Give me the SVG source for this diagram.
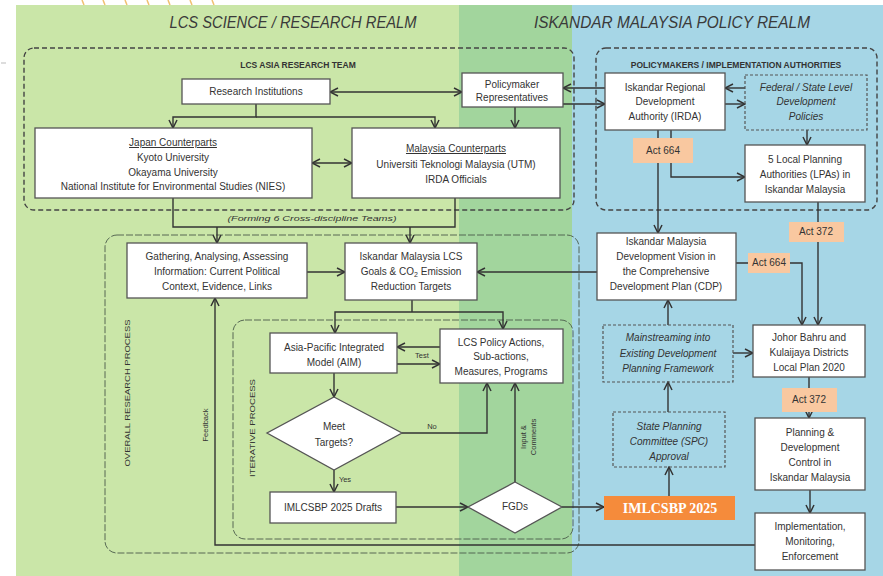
<svg xmlns="http://www.w3.org/2000/svg" width="883" height="576" viewBox="0 0 883 576">
<defs>
<marker id="arr" markerUnits="userSpaceOnUse" markerWidth="10" markerHeight="10" viewBox="0 0 10 10" refX="9" refY="5" orient="auto-start-reverse">
<path d="M1,1 L9,5 L1,9" fill="none" stroke="#333" stroke-width="1.5"/>
</marker>
<style>
text{font-family:"Liberation Sans",Arial,sans-serif;fill:#333;}
.box{fill:#fff;stroke:#555;stroke-width:1.3;}
.dbox{fill:none;stroke:#555;stroke-width:1.2;stroke-dasharray:3 2;}
.grp{fill:none;stroke:#444;stroke-width:1.4;stroke-dasharray:5 3;}
.grp2{fill:none;stroke:#4a5a4a;stroke-width:0.9;stroke-dasharray:7 2;}
.t{font-size:10px;text-anchor:middle;}
.ti{font-size:10px;text-anchor:middle;font-style:italic;}
.lbl{font-size:8.5px;font-weight:bold;text-anchor:middle;}
.title{font-size:16.5px;font-style:italic;text-anchor:middle;fill:#3a3a3a;}
.small{font-size:7.5px;text-anchor:middle;}
.act{fill:#F9C8A0;}
.c{fill:none;stroke:#333;stroke-width:1.4;}
.ca{fill:none;stroke:#333;stroke-width:1.4;marker-end:url(#arr);}
.cb{fill:none;stroke:#333;stroke-width:1.4;marker-end:url(#arr);marker-start:url(#arr);}
</style>
</defs>

<!-- backgrounds -->
<rect x="0" y="0" width="883" height="576" fill="#fff"/>
<rect x="16" y="5" width="443" height="571" fill="#CAE6A8"/>
<rect x="459" y="5" width="113" height="571" fill="#A2D59D"/>
<rect x="572" y="5" width="311" height="571" fill="#A6D6E6"/>
<g stroke="#F0C070" stroke-width="1.5">
<line x1="84" y1="5" x2="82" y2="0"/><line x1="105" y1="5" x2="103" y2="0"/><line x1="127" y1="5" x2="125" y2="0"/><line x1="149" y1="5" x2="147" y2="0"/><line x1="170" y1="5" x2="168" y2="0"/><line x1="192" y1="5" x2="190" y2="0"/><line x1="214" y1="5" x2="212" y2="0"/>
</g>
<line x1="1" y1="63" x2="6" y2="63" stroke="#bbb" stroke-width="1"/>

<text class="title" x="293" y="28" textLength="247" lengthAdjust="spacingAndGlyphs">LCS SCIENCE / RESEARCH REALM</text>
<text class="title" x="672" y="28" textLength="276" lengthAdjust="spacingAndGlyphs">ISKANDAR MALAYSIA POLICY REALM</text>

<!-- group frames -->
<g id="lcs-asia-research-team">
<rect class="grp" x="24" y="48" width="550" height="162" rx="10"/>
<text class="lbl" x="298" y="68">LCS ASIA RESEARCH TEAM</text>
</g>
<g id="policymakers-authorities">
<rect class="grp" x="596" y="48" width="281" height="162" rx="10"/>
<text class="lbl" x="736" y="68">POLICYMAKERS / IMPLEMENTATION AUTHORITIES</text>
</g>
<g id="overall-research-process">
<rect class="grp2" x="105" y="235" width="474" height="318" rx="12"/>
<text class="small" transform="translate(130,393) rotate(-90)" font-size="8.5" textLength="147" lengthAdjust="spacingAndGlyphs">OVERALL RESEARCH PROCESS</text>
</g>
<g id="iterative-process">
<rect class="grp2" x="233" y="320" width="340" height="219" rx="12"/>
<text class="small" transform="translate(255,428) rotate(-90)" font-size="8.5" textLength="98" lengthAdjust="spacingAndGlyphs">ITERATIVE PROCESS</text>
</g>

<!-- connectors -->
<g id="connectors">
<path class="cb" d="M330,92 H462"/>
<path class="ca" d="M256,104 V117 H173 V128"/>
<path class="ca" d="M256,117 H435 V128"/>
<path class="ca" d="M515,107 V128"/>
<path class="cb" d="M312,163 H352"/>
<path class="ca" d="M605,88 H563"/>
<path class="ca" d="M563,104 H605"/>
<path class="ca" d="M745,88 H725"/>
<path class="ca" d="M725,104 H745"/>
<path class="ca" d="M807,130 V145"/>
<path class="ca" d="M658,130 V233"/>
<path class="ca" d="M671,130 V177 H745"/>
<path class="ca" d="M818,202 V325"/>
<path class="ca" d="M736,263 H802 V325"/>
<path class="ca" d="M597,272 H477"/>
<path class="ca" d="M668,325 V300"/>
<path class="ca" d="M733,353 H753"/>
<path class="ca" d="M668,412 V382"/>
<path class="ca" d="M669,496 V467"/>
<path class="ca" d="M809,377 V418"/>
<path class="ca" d="M810,490 V513"/>
<path class="ca" d="M755,545 H215 V298"/>
<path class="c" d="M173,198 V227 H455 V198"/>
<path class="ca" d="M217,227 V243"/>
<path class="ca" d="M410,227 V243"/>
<path class="ca" d="M307,272 H345"/>
<path class="c" d="M412,300 V312"/>
<path class="ca" d="M412,312 H335 V333"/>
<path class="ca" d="M412,312 H503 V329"/>
<path class="ca" d="M440,347 H397"/>
<path class="ca" d="M397,364 H440"/>
<path class="ca" d="M334,373 V397"/>
<path class="ca" d="M402,433 H487 V383"/>
<path class="ca" d="M334,470 V492"/>
<path class="ca" d="M396,507 H468"/>
<path class="ca" d="M515,482 V383"/>
<path class="ca" d="M562,507 H604"/>
<text class="small" x="312" y="221" font-style="italic" font-size="9.5" textLength="169" lengthAdjust="spacingAndGlyphs">(Forming 6 Cross-discipline Teams)</text>
<text class="small" x="422" y="358" font-size="7">Test</text>
<text class="small" x="432" y="429" font-size="7">No</text>
<text class="small" x="345" y="482" font-size="7">Yes</text>
<text class="small" transform="translate(208,425) rotate(-90)" font-size="6.5">Feedback</text>
<text class="small" transform="translate(526,437) rotate(-90)" font-size="7">Input &amp;</text>
<text class="small" transform="translate(536,437) rotate(-90)" font-size="7">Comments</text>
</g>

<!-- act labels -->
<g id="act664-a"><rect class="act" x="633" y="138" width="60" height="25"/><text class="t" x="663" y="154" font-size="9.5">Act 664</text></g>
<g id="act372-a"><rect class="act" x="789" y="222" width="55" height="20"/><text class="t" x="816" y="235" font-size="9.5">Act 372</text></g>
<g id="act664-b"><rect class="act" x="748" y="253" width="42" height="20"/><text class="t" x="769" y="266" font-size="9">Act 664</text></g>
<g id="act372-b"><rect class="act" x="782" y="388" width="55" height="24"/><text class="t" x="809" y="403" font-size="9.5">Act 372</text></g>

<!-- nodes -->
<g id="research-institutions"><rect class="box" x="182" y="79" width="148" height="25"/><text class="t" x="256" y="95">Research Institutions</text></g>
<g id="policymaker-representatives"><rect class="box" x="462" y="73" width="101" height="34"/><text class="t" x="512" y="88">Policymaker</text><text class="t" x="512" y="101">Representatives</text></g>
<g id="japan-counterparts"><rect class="box" x="35" y="128" width="277" height="70"/>
<text class="t" x="173" y="146" text-decoration="underline">Japan Counterparts</text>
<text class="t" x="173" y="161">Kyoto University</text>
<text class="t" x="173" y="176">Okayama University</text>
<text class="t" x="173" y="190" font-size="9.7">National Institute for Environmental Studies (NIES)</text></g>
<g id="malaysia-counterparts"><rect class="box" x="352" y="128" width="208" height="70"/>
<text class="t" x="456" y="152" text-decoration="underline">Malaysia Counterparts</text>
<text class="t" x="456" y="168">Universiti Teknologi Malaysia (UTM)</text>
<text class="t" x="456" y="183">IRDA Officials</text></g>
<g id="irda"><rect class="box" x="605" y="73" width="120" height="57"/>
<text class="t" x="665" y="91">Iskandar Regional</text><text class="t" x="665" y="105">Development</text><text class="t" x="665" y="120">Authority (IRDA)</text></g>
<g id="federal-state-policies"><rect class="dbox" x="745" y="75" width="122" height="55"/>
<text class="ti" x="806" y="91">Federal / State Level</text><text class="ti" x="806" y="105">Development</text><text class="ti" x="806" y="120">Policies</text></g>
<g id="local-planning-authorities"><rect class="box" x="745" y="145" width="120" height="57"/>
<text class="t" x="805" y="163">5 Local Planning</text><text class="t" x="805" y="178">Authorities (LPAs) in</text><text class="t" x="805" y="193">Iskandar Malaysia</text></g>
<g id="gathering"><rect class="box" x="127" y="243" width="180" height="55"/>
<text class="t" x="217" y="260">Gathering, Analysing, Assessing</text><text class="t" x="217" y="275">Information: Current Political</text><text class="t" x="217" y="290">Context, Evidence, Links</text></g>
<g id="lcs-goals"><rect class="box" x="345" y="243" width="132" height="57"/>
<text class="t" x="411" y="260">Iskandar Malaysia LCS</text><text class="t" x="411" y="275">Goals &amp; CO<tspan font-size="7" dy="2">2</tspan><tspan dy="-2"> Emission</tspan></text><text class="t" x="411" y="290">Reduction Targets</text></g>
<g id="development-vision-cdp"><rect class="box" x="597" y="233" width="139" height="67"/>
<text class="t" x="666" y="245">Iskandar Malaysia</text><text class="t" x="666" y="260">Development Vision in</text><text class="t" x="666" y="275">the Comprehensive</text><text class="t" x="666" y="290">Development Plan (CDP)</text></g>
<g id="aim"><rect class="box" x="270" y="333" width="127" height="40"/>
<text class="t" x="334" y="351">Asia-Pacific Integrated</text><text class="t" x="334" y="366">Model (AIM)</text></g>
<g id="lcs-policy-actions"><rect class="box" x="440" y="329" width="123" height="54"/>
<text class="t" x="501" y="346">LCS Policy Actions,</text><text class="t" x="501" y="360">Sub-actions,</text><text class="t" x="501" y="375">Measures, Programs</text></g>
<g id="mainstreaming"><rect class="dbox" x="603" y="325" width="130" height="57"/>
<text class="ti" x="668" y="341">Mainstreaming into</text><text class="ti" x="668" y="357">Existing Development</text><text class="ti" x="668" y="372">Planning Framework</text></g>
<g id="johor-bahru-local-plan"><rect class="box" x="753" y="325" width="112" height="52"/>
<text class="t" x="809" y="341">Johor Bahru and</text><text class="t" x="809" y="356">Kulaijaya Districts</text><text class="t" x="809" y="371">Local Plan 2020</text></g>
<g id="meet-targets"><polygon points="334,397 402,433 334,470 267,433" fill="#fff" stroke="#555" stroke-width="1.3"/>
<text class="t" x="334" y="430">Meet</text><text class="t" x="334" y="446">Targets?</text></g>
<g id="spc-approval"><rect class="dbox" x="613" y="412" width="112" height="55"/>
<text class="ti" x="669" y="430">State Planning</text><text class="ti" x="669" y="445">Committee (SPC)</text><text class="ti" x="669" y="460">Approval</text></g>
<g id="planning-development-control"><rect class="box" x="755" y="418" width="110" height="72"/>
<text class="t" x="810" y="436">Planning &amp;</text><text class="t" x="810" y="451">Development</text><text class="t" x="810" y="466">Control in</text><text class="t" x="810" y="481">Iskandar Malaysia</text></g>
<g id="imlcsbp-drafts"><rect class="box" x="270" y="492" width="126" height="31"/>
<text class="t" x="333" y="511">IMLCSBP 2025 Drafts</text></g>
<g id="fgds"><polygon points="515,482 562,507 515,533 468,507" fill="#fff" stroke="#555" stroke-width="1.3"/>
<text class="t" x="515" y="510" font-size="9">FGDs</text></g>
<g id="imlcsbp-2025"><rect x="604" y="496" width="131" height="24" fill="#F58B3B"/>
<text x="670" y="513" text-anchor="middle" style="font-family:'Liberation Serif','Times New Roman',serif;font-weight:bold;font-size:14px;fill:#fff">IMLCSBP 2025</text></g>
<g id="implementation"><rect class="box" x="755" y="513" width="110" height="57"/>
<text class="t" x="810" y="530">Implementation,</text><text class="t" x="810" y="545">Monitoring,</text><text class="t" x="810" y="560">Enforcement</text></g>
</svg>
